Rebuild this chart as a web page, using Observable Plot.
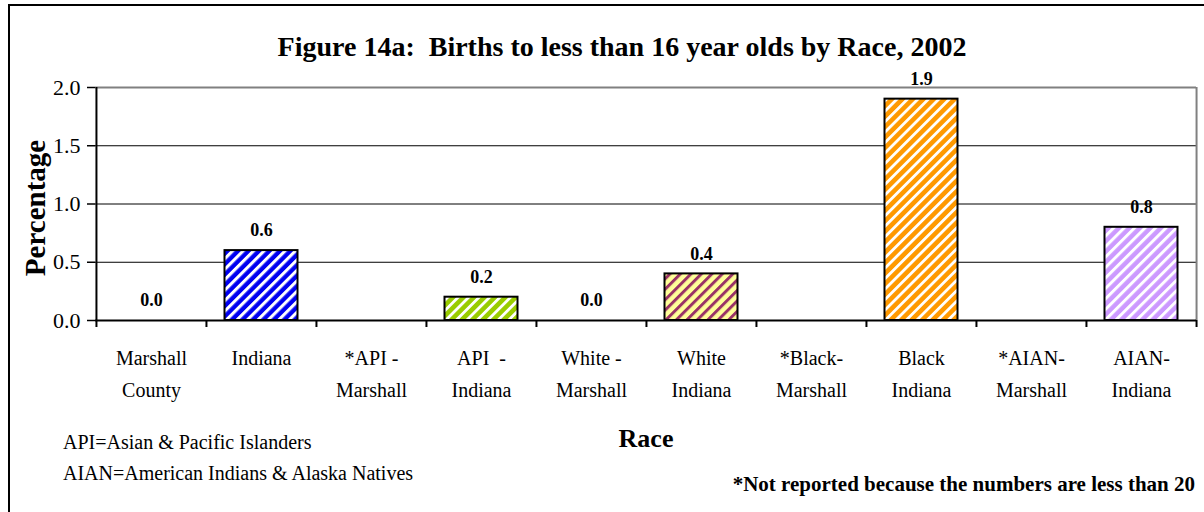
<!DOCTYPE html>
<html><head><meta charset="utf-8">
<script src="https://cdn.jsdelivr.net/npm/d3@7"></script>
<script src="https://cdn.jsdelivr.net/npm/@observablehq/plot@0.6"></script>
<style>
html,body{margin:0;padding:0;background:#fff;overflow:hidden}
#wrap{position:relative;width:1204px;height:512px;overflow:hidden;font-family:"Liberation Serif","Times New Roman",serif;color:#000;background:#fff}
#border{position:absolute;left:8px;top:4px;width:1400px;height:700px;border-left:2px solid #000;border-top:2px solid #000}
#chart{position:absolute;left:0;top:0}
.t{position:absolute;white-space:pre}
#title{left:0;width:1244px;text-align:center;top:33px;font-size:28px;line-height:28px;font-weight:bold}
#n1{left:63px;top:432px;font-size:20px;line-height:20px}
#n2{left:63px;top:463px;font-size:20px;line-height:20px}
#n3{right:9px;top:474px;font-size:21px;line-height:21px;font-weight:bold}
</style></head><body>
<div id="wrap">
<div id="border"></div>
<div id="chart"></div>
<div class="t" id="title">Figure 14a:  Births to less than 16 year olds by Race, 2002</div>
<div class="t" id="n1">API=Asian &amp; Pacific Islanders</div>
<div class="t" id="n2">AIAN=American Indians &amp; Alaska Natives</div>
<div class="t" id="n3">*Not reported because the numbers are less than 20</div>
</div>
<script>
// ---- data ----
const categories = [
  "Marshall\nCounty", "Indiana", "*API -\nMarshall", "API\u00a0 -\nIndiana", "White -\nMarshall",
  "White\nIndiana", "*Black-\nMarshall", "Black\nIndiana", "*AIAN-\nMarshall", "AIAN-\nIndiana"
];
const values = [0.0, 0.6, null, 0.2, 0.0, 0.4, null, 1.9, null, 0.8];
const yTicks = [0, 0.5, 1.0, 1.5, 2.0];
const gridValues = [0.5, 1.0, 1.5];

// ---- styles (kept apart from data) ----
const barStyles = {
  "Indiana": {base: "#0000F0", stripe: "#FFFFFF", w: 0.42},
  "API\u00a0 -\nIndiana": {base: "#99CC00", stripe: "#FFFFFF", w: 0.38},
  "White\nIndiana": {base: "#FFFF99", stripe: "#993366", w: 0.40},
  "Black\nIndiana": {base: "#FF9900", stripe: "#FFFFFF", w: 0.38},
  "AIAN-\nIndiana": {base: "#CC99FF", stripe: "#FFFFFF", w: 0.40}
};

const data = categories.map((c, i) => ({category: c, value: values[i], idx: i}));
const reported = data.filter(d => d.value != null);
const filled = reported.filter(d => d.value > 0);

const W = 1204, H = 512, mL = 95, mR = 8, mT = 87, mB = 192;
const bw = (W - mL - mR) / categories.length;
const last = categories[categories.length - 1];

const plot = Plot.plot({
  width: W, height: H,
  marginLeft: mL, marginRight: mR, marginTop: mT, marginBottom: mB,
  style: {fontFamily: "Liberation Serif, Times New Roman, serif", color: "#000", background: "transparent", overflow: "visible"},
  x: {domain: categories, padding: 0, label: null},
  y: {domain: [0, 2], label: null},
  marks: [
    Plot.ruleY(gridValues, {stroke: "#000", strokeWidth: 1}),
    Plot.ruleY([2], {stroke: "#808080", strokeWidth: 2}),
    Plot.ruleX([last], {dx: bw / 2, stroke: "#808080", strokeWidth: 2}),
    filled.map(d => Plot.barY([d], {
      x: "category", y: "value", fill: `url(#pat${d.idx})`,
      stroke: "#000", strokeWidth: 2, insetLeft: 18.5, insetRight: 18.5
    })),
    Plot.text(reported, {x: "category", y: "value", text: d => d.value.toFixed(1), dy: -20,
      fontWeight: "bold", fontSize: 18, lineAnchor: "middle"}),
    Plot.axisY({ticks: yTicks, tickFormat: d => d.toFixed(1), tickSize: 8, tickPadding: 7,
      fontSize: 22, label: null, strokeWidth: 1.5}),
    Plot.axisX({tickSize: 0, tickPadding: 22, fontSize: 20, lineHeight: 1.6, label: null}),
    Plot.ruleX(categories, {dx: -bw / 2, y1: 0, y2: 0, insetBottom: -7, stroke: "#000", strokeWidth: 2}),
    Plot.ruleX([last], {dx: bw / 2, y1: 0, y2: 0, insetBottom: -7, stroke: "#000", strokeWidth: 2}),
    Plot.ruleY([0], {stroke: "#000", strokeWidth: 2}),
    Plot.ruleX([categories[0]], {dx: -bw / 2, stroke: "#000", strokeWidth: 2}),
    Plot.text(["Percentage"], {frameAnchor: "left", dx: -60, dy: 4, rotate: -90, textAnchor: "middle",
      lineAnchor: "middle", fontSize: 29, fontWeight: "bold"}),
    Plot.text(["Race"], {frameAnchor: "bottom", dy: 118, fontSize: 26, fontWeight: "bold", lineAnchor: "middle"})
  ]
});

document.getElementById("chart").appendChild(plot);
const svg = plot.tagName.toLowerCase() === "svg" ? plot : plot.querySelector("svg");
const ns = "http://www.w3.org/2000/svg";
const defs = document.createElementNS(ns, "defs");
const P = 7.4;
for (const d of filled) {
  const s = barStyles[d.category];
  const pat = document.createElementNS(ns, "pattern");
  pat.setAttribute("id", `pat${d.idx}`);
  pat.setAttribute("patternUnits", "userSpaceOnUse");
  pat.setAttribute("width", P);
  pat.setAttribute("height", P);
  pat.setAttribute("patternTransform", "rotate(45)");
  const r1 = document.createElementNS(ns, "rect");
  r1.setAttribute("width", P); r1.setAttribute("height", P); r1.setAttribute("fill", s.base);
  const r2 = document.createElementNS(ns, "rect");
  r2.setAttribute("width", P * s.w); r2.setAttribute("height", P); r2.setAttribute("fill", s.stripe);
  pat.appendChild(r1); pat.appendChild(r2);
  defs.appendChild(pat);
}
svg.insertBefore(defs, svg.firstChild);
</script>
</body></html>
